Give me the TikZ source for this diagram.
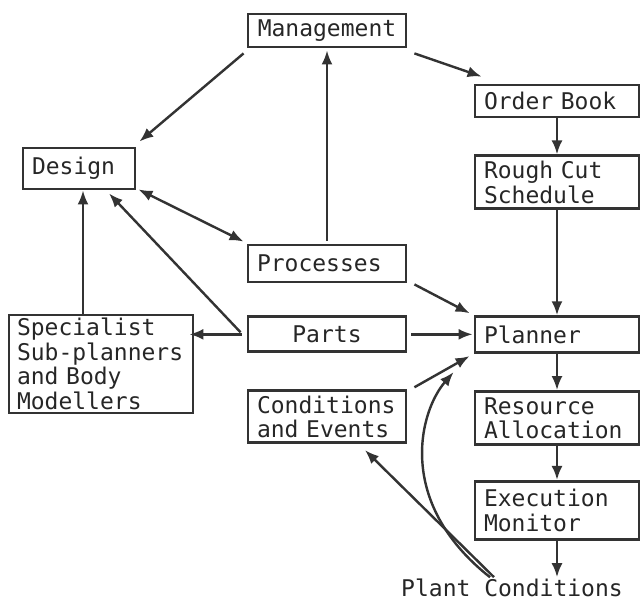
\documentclass[tikz,border=0pt]{standalone}
\usepackage{fontspec}
\newfontfamily\typefont{DejaVu Sans Mono}
\usetikzlibrary{positioning,arrows.meta}

\begin{document}
\begin{tikzpicture}[x=1pt, y=1pt,
            blk/.style={draw=black!80, line width=1mm, inner xsep=9pt, inner ysep=2pt, align=left, text=black!85, font=\typefont\fontsize{23}{24.5}\selectfont},
            midblk/.style={blk, text width=140pt},
            rgtblk/.style={blk, text width=146pt},
            arr/.style={draw=black!80, line width=0.85mm, -{Latex[length=14pt,width=11pt]}},
            dblarr/.style={arr, {Latex[length=14pt,width=11pt]}-{Latex[length=14pt,width=11pt]}},
        ]
            \useasboundingbox (0,0) rectangle (642,604);

            %Nodes
            \node[midblk, align=center, minimum height=33pt](mgmt) at (327,573.5) {Management};
            \node[rgtblk, minimum height=32pt](order) at (557,503) {Order Book};
            \node[rgtblk, minimum height=53pt](rough)[below=36pt of order] {Rough Cut\\Schedule};
            \node[rgtblk, minimum height=36pt](planner)[below=105pt of rough] {Planner};
            \node[rgtblk, minimum height=53pt](resource)[below=36pt of planner] {Resource\\Allocation};
            \node[rgtblk, minimum height=58pt](execution)[below=34pt of resource] {Execution\\Monitor};
            \node[font=\typefont\fontsize{23}{24.5}\selectfont, text=black!85, inner sep=1pt, anchor=base](plant) at (512,7) {Plant Conditions};

            \node[midblk, minimum height=37pt](processes) at (327,340.5) {Processes};
            \node[midblk, align=center, minimum height=35pt](parts)[below=32pt of processes] {Parts};
            \node[midblk, minimum height=52pt](conditions)[below=36pt of parts] {Conditions\\and Events};

            \node[blk, text width=94pt, minimum height=41pt](design) at (79,435.5) {Design};
            \node[blk, text width=168pt, inner xsep=8pt, minimum height=98pt](specialist) at (101,240) {Specialist\\Sub-planners\\and Body\\Modellers};

            %Lines
            \draw[arr] ([xshift=-3pt,yshift=-5pt]mgmt.south west) -- ([xshift=3pt,yshift=5pt]design.north east);
            \draw[arr] ([xshift=7pt,yshift=-5pt]mgmt.south east) -- ([xshift=8pt,yshift=7pt]order.north west);
            \draw[arr] (order.south) -- (rough.north);
            \draw[arr] (rough.south) -- (planner.north);
            \draw[arr] ([yshift=3pt]processes.north) -- ([yshift=-2pt]mgmt.south);
            \draw[dblarr] ([xshift=2pt,yshift=1pt]design.south east) -- ([xshift=-3pt,yshift=2pt]processes.north west);
            \draw[arr] ([xshift=-6pt,yshift=2pt]parts.west) -- ([xshift=30pt,yshift=-3pt]design.south);
            \draw[arr] ([xshift=-18pt]specialist.north) -- ([xshift=-18pt]specialist.north |- design.south);
            \draw[arr] ([xshift=-5pt]parts.west) -- ([xshift=-5pt]parts.west -| specialist.east);
            \draw[arr] ([xshift=4pt]parts.east) -- ([xshift=-1pt]parts.east -| planner.west);
            \draw[arr] ([xshift=7pt,yshift=-1pt]processes.south east) -- ([xshift=-4pt,yshift=2pt]planner.north west);
            \draw[arr] ([xshift=7pt,yshift=2pt]conditions.north east) -- ([xshift=-4pt,yshift=-2pt]planner.south west);
            \draw[arr] ([xshift=-18pt,yshift=1pt]plant.north) -- ([xshift=38pt,yshift=-6pt]conditions.south);
            \draw[arr] ([xshift=-22pt,yshift=1pt]plant.north) .. controls +(-95pt,75pt) and +(-34pt,-39pt) .. ([xshift=-20pt,yshift=-18pt]planner.south west);
            \draw[arr] (planner.south) -- (resource.north);
            \draw[arr] (resource.south) -- (execution.north);
            \draw[arr] (execution.south) -- ([yshift=1pt]execution.south |- plant.north);
        \end{tikzpicture}
\end{document}
